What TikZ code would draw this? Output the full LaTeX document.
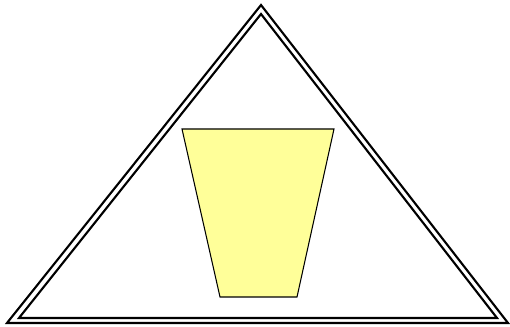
\documentclass[tikz,border=0pt]{standalone}
\usepackage{tikz}
\usepackage{xcolor}
\definecolor{cupyellow}{RGB}{255,255,153}

\begin{document}
\begin{tikzpicture}[
    x=0.02cm, y=-0.02cm,
    rim/.style={draw=black, line width=1.2pt, line join=miter},
    cup/.style={draw=black, line width=0.6pt, fill=cupyellow}
]
\useasboundingbox (0,0) rectangle (510,327);
% triangolo esterno e interno
\draw[rim] (7,323) -- (261,5) -- (508,323) -- cycle;
\draw[rim] (19,318) -- (261,14) -- (497,318) -- cycle;
% trapezio giallo
\draw[cup] (182,129) -- (334,129) -- (297,297) -- (220,297) -- cycle;
\end{tikzpicture}
\end{document}
